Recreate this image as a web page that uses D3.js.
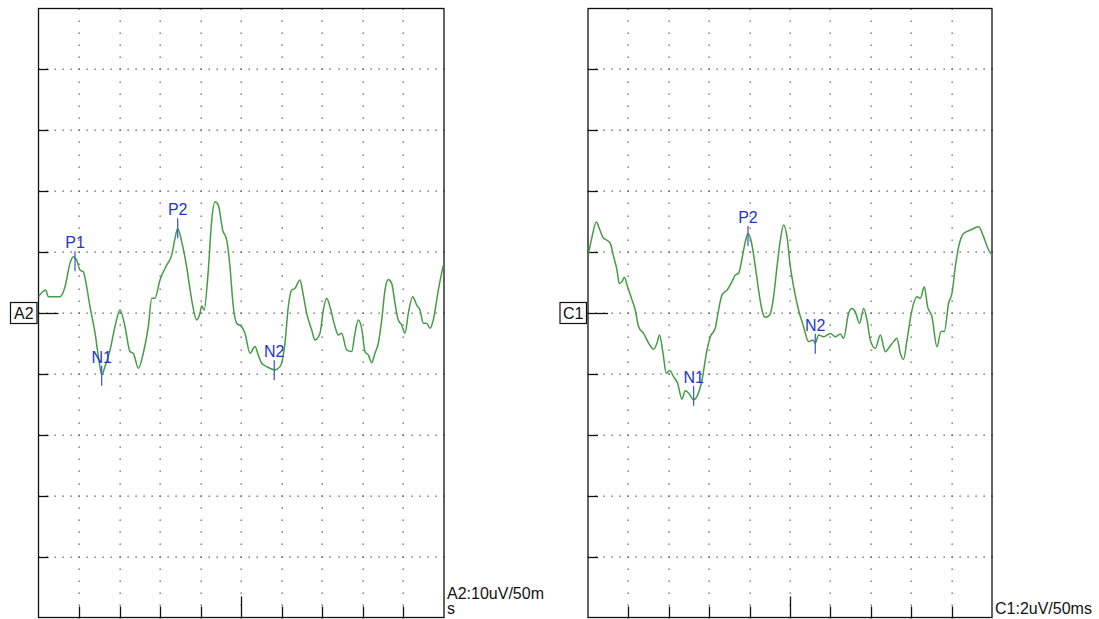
<!DOCTYPE html>
<html>
<head>
<meta charset="utf-8">
<script src="https://cdn.jsdelivr.net/npm/d3@7"></script>
<style>
  body { margin: 0; background: #fff; }
  svg { display: block; }
  text { font-family: "Liberation Sans", Arial, sans-serif; }
</style>
</head>
<body>
<svg id="chart" width="1099" height="619"></svg>
<script>
// time axis: 10 divisions of 50 ms
var timeTicks = d3.range(0, 501, 50);

// A2 trace [ms, uV], 10 uV / division
var a2Trace = [
  [0, 2.67], [8.9, 3.77], [12.1, 2.67], [26.5, 2.67], [32.7, 4.31], [38.8, 8.15],
  [42.9, 9.23], [47.1, 8.69], [51.2, 7.05], [55.2, 6.77], [58.6, 4.92], [63.5, 1.03],
  [69.7, -3.28], [75.0, -8.2], [77.9, -10.16], [82.0, -8.8], [88.2, -6.07], [94.3, -2.25],
  [100.5, 0.49], [106.7, -2.25], [112.8, -6.34], [116.9, -6.61], [123.1, -9.07], [129.2, -6.61],
  [135.4, -2.25], [139.6, 2.41], [143.6, 2.41], [149.8, 5.41], [158.1, 7.87], [164.2, 9.51],
  [168.3, 12.25], [171.6, 13.89], [176.6, 11.69], [182.7, 7.59], [188.9, 2.13], [195.1, -1.15],
  [199.1, -0.05], [201.2, 1.15], [204.1, 0.49], [209.4, 7.05], [213.6, 15.25], [217.6, 18.25],
  [221.7, 17.7], [227.1, 13.61], [232.1, 11.97], [236.1, 7.59], [240.2, 1.03], [244.4, -1.69],
  [250.5, -2.25], [254.6, -3.33], [260.8, -6.61], [266.9, -5.52], [271.0, -6.89], [275.2, -8.25],
  [281.4, -8.8], [291.6, -9.34], [297.8, -8.8], [303.9, -4.97], [308.0, 1.03], [312.2, 3.77],
  [316.3, 4.05], [322.4, 5.41], [326.5, 2.95], [330.7, -0.05], [336.9, -2.79], [340.9, -4.43],
  [347.1, -3.33], [351.2, 0.49], [355.3, 2.41], [359.4, 1.03], [365.6, -2.25], [369.7, -3.61],
  [373.8, -3.33], [380.0, -6.07], [386.2, -6.34], [390.2, -3.33], [394.3, -1.15], [398.5, -2.51],
  [402.6, -6.34], [406.6, -6.89], [410.8, -8.15], [414.9, -6.61], [419.0, -4.97], [423.2, -1.15],
  [427.2, 3.77], [431.3, 5.52], [435.5, 4.87], [439.6, 1.59], [443.6, -1.15], [447.8, -1.97],
  [451.9, -3.33], [456.0, -0.05], [461.4, 2.67], [466.3, 1.31], [470.4, 0.49], [474.5, -1.69],
  [478.6, -1.69], [482.7, -2.51], [486.8, -1.15], [493.0, 3.77], [499.1, 7.87]
];

// C1 trace [ms, uV], 2 uV / division
var c1Trace = [
  [0.7, 1.96], [5.0, 2.5], [10.3, 2.99], [14.4, 2.75], [18.6, 2.48], [23.5, 2.39],
  [27.6, 2.29], [31.7, 1.85], [35.9, 1.41], [38.7, 0.97], [42.1, 1.03], [44.9, 1.17],
  [49.0, 0.86], [54.5, 0.43], [58.5, 0.1], [62.6, -0.45], [68.8, -0.67], [75.0, -0.99],
  [81.2, -1.19], [85.4, -0.99], [88.6, -0.72], [92.8, -1.32], [96.9, -1.98], [101.0, -1.89],
  [105.9, -2.09], [110.9, -2.31], [116.3, -2.83], [120.4, -2.55], [124.5, -2.63], [130.7, -2.85],
  [134.9, -2.74], [141.1, -2.2], [147.3, -1.21], [151.4, -0.78], [157.5, -0.5], [161.6, 0.1],
  [165.8, 0.59], [172.0, 0.75], [178.2, 1.03], [182.3, 1.25], [186.4, 1.3], [190.6, 1.79],
  [194.7, 2.34], [198.0, 2.61], [202.1, 2.34], [207.1, 1.52], [211.1, 0.75], [215.3, 0.1],
  [219.4, -0.14], [224.7, -0.07], [229.7, 0.53], [233.9, 1.52], [238.0, 2.39], [242.1, 2.89],
  [246.3, 2.5], [250.4, 1.52], [254.5, 0.86], [260.6, 0.1], [266.8, -0.45], [273.0, -0.94],
  [278.5, -0.89], [281.3, -0.99], [285.4, -0.72], [291.6, -0.78], [299.9, -0.67], [306.1, -0.78],
  [312.3, -0.69], [316.3, -0.83], [322.5, -0.01], [326.7, 0.15], [330.8, 0.04], [336.1, -0.34],
  [341.1, 0.15], [345.3, -0.23], [349.4, -0.89], [355.6, -1.16], [361.8, -0.72], [368.0, -1.27],
  [373.3, -1.11], [378.2, -0.94], [382.4, -0.83], [386.5, -1.32], [390.6, -1.52], [394.8, -0.89],
  [401.0, 0.1], [407.2, 0.53], [411.3, 0.48], [416.2, 0.86], [420.3, 0.21], [425.7, -0.12],
  [431.9, -1.11], [436.9, -0.61], [441.0, -0.61], [446.3, 0.32], [450.5, 0.65], [454.6, 1.52],
  [458.7, 2.17], [464.8, 2.61], [473.1, 2.72], [483.4, 2.83], [489.6, 2.5], [495.8, 2.07],
  [500, 1.9]
];

// peak marks: name, ms, uV
var a2Peaks = [["P1", 45.0, 8.5], ["N1", 77.9, -10.3], ["P2", 171.6, 13.9], ["N2", 290.7, -9.4]];
var c1Peaks = [["N1", 130.7, -2.72], ["P2", 198.0, 2.53], ["N2", 281.3, -1.01]];

var panels = [
  { name: "A2", trace: a2Trace, peaks: a2Peaks, range: 50, scaleText: ["A2:10uV/50m", "s"], x0: 38.5, x1: 444 },
  { name: "C1", trace: c1Trace, peaks: c1Peaks, range: 10, scaleText: ["C1:2uV/50ms"], x0: 588, x1: 992 }
];

var svg = d3.select("#chart");
var top0 = 8.5, bottom0 = 617.5;

panels.forEach(drawPanel);

function drawPanel(p) {
  var x = d3.scaleLinear().domain([0, 500]).range([p.x0, p.x1]);
  var y = d3.scaleLinear().domain([-p.range, p.range]).range([bottom0, top0]);
  var g = svg.append("g").attr("class", "panel-" + p.name);

  var majorY = d3.range(-p.range + p.range / 5, p.range, p.range / 5);
  var majorX = timeTicks.slice(1, -1);

  // dotted grid: dots at every fifth of a division along the major lines
  var dots = [];
  majorY.forEach(function(v) {
    d3.range(0, 501, 10).forEach(function(t) { dots.push([t, v]); });
  });
  majorX.forEach(function(t) {
    d3.range(-p.range, p.range + 0.001, p.range / 25).forEach(function(v) { dots.push([t, v]); });
  });
  g.append("g").selectAll("rect")
    .data(dots)
    .enter().append("rect")
    .attr("x", function(d) { return Math.round(x(d[0])) - 0.5; })
    .attr("y", function(d) { return Math.round(y(d[1])) - 0.5; })
    .attr("width", 1.3)
    .attr("height", 1.3)
    .attr("fill", "#555");

  // frame
  g.append("rect")
    .attr("x", p.x0).attr("y", top0)
    .attr("width", p.x1 - p.x0).attr("height", bottom0 - top0)
    .attr("fill", "none").attr("stroke", "#111").attr("stroke-width", 1.3);

  // left ticks, longer at the baseline
  g.append("g").selectAll("line")
    .data(majorY)
    .enter().append("line")
    .attr("x1", p.x0)
    .attr("x2", function(d) { return p.x0 + (Math.abs(d) < 1e-9 ? 20 : 10); })
    .attr("y1", function(d) { return Math.round(y(d)) + 0.5; })
    .attr("y2", function(d) { return Math.round(y(d)) + 0.5; })
    .attr("stroke", "#111").attr("stroke-width", 1.3);

  // bottom ticks, longer in the middle
  g.append("g").selectAll("line")
    .data(majorX)
    .enter().append("line")
    .attr("x1", function(d) { return Math.round(x(d)) + 0.5; })
    .attr("x2", function(d) { return Math.round(x(d)) + 0.5; })
    .attr("y1", bottom0)
    .attr("y2", function(d) { return bottom0 - (d === 250 ? 21 : 11); })
    .attr("stroke", "#111").attr("stroke-width", 1.3);

  // channel box
  var by = y(0);
  g.append("rect")
    .attr("x", p.x0 - 28).attr("y", by - 10.5)
    .attr("width", 26.5).attr("height", 21)
    .attr("fill", "#fff").attr("stroke", "#111").attr("stroke-width", 1.2);
  g.append("text")
    .attr("x", p.x0 - 14.7).attr("y", by + 6)
    .attr("text-anchor", "middle")
    .attr("font-size", 16)
    .attr("fill", "#111")
    .text(p.name);

  // trace
  var line = d3.line()
    .x(function(d) { return x(d[0]); })
    .y(function(d) { return y(d[1]); })
    .curve(d3.curveMonotoneX);

  g.append("path")
    .datum(p.trace)
    .attr("d", line)
    .attr("fill", "none")
    .attr("stroke", "#449c44")
    .attr("stroke-width", 1.5)
    .attr("stroke-linejoin", "round");

  // peak marks
  var pk = g.append("g").selectAll("g")
    .data(p.peaks)
    .enter().append("g");
  pk.append("line")
    .attr("x1", function(d) { return x(d[1]); })
    .attr("x2", function(d) { return x(d[1]); })
    .attr("y1", function(d) { return y(d[2]) - 10; })
    .attr("y2", function(d) { return y(d[2]) + 10; })
    .attr("stroke", "#4a5ad8").attr("stroke-width", 1.3);
  pk.append("text")
    .attr("x", function(d) { return x(d[1]); })
    .attr("y", function(d) { return y(d[2]) - 13; })
    .attr("text-anchor", "middle")
    .attr("font-size", 16)
    .attr("fill", "#2436d0")
    .text(function(d) { return d[0]; });

  // scale note
  g.append("g").selectAll("text")
    .data(p.scaleText)
    .enter().append("text")
    .attr("x", p.x1 + 3)
    .attr("y", function(d, i) { return (p.scaleText.length > 1 ? 599 : 614) + i * 15; })
    .attr("font-size", 16)
    .attr("fill", "#111")
    .text(function(d) { return d; });
}
</script>
</body>
</html>
